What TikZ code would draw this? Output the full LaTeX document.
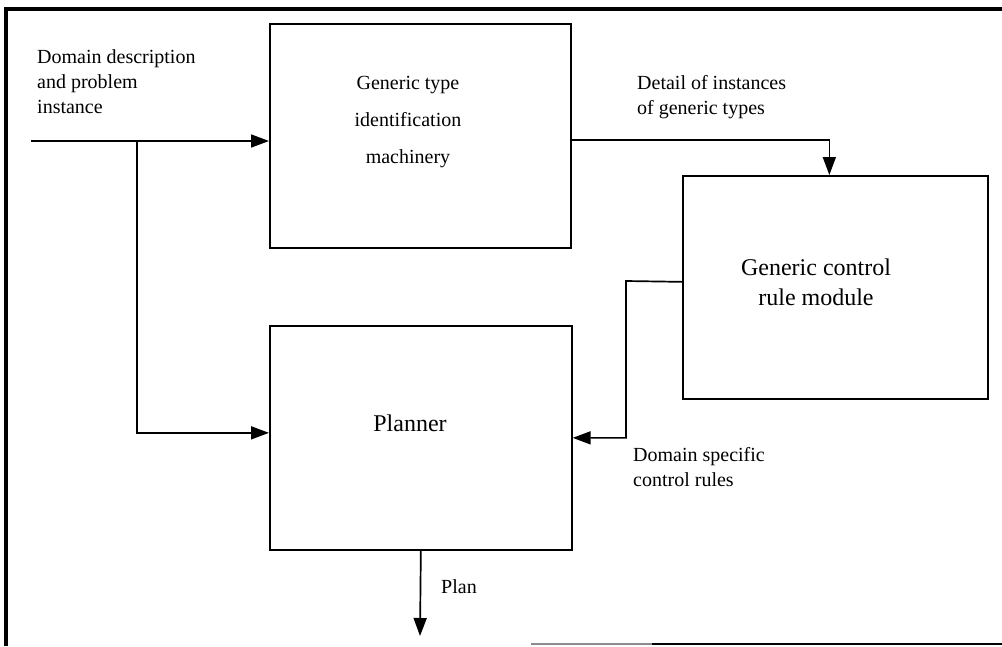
\documentclass[tikz,border=0pt]{standalone}
\usepackage{fontspec}
\setmainfont{Liberation Serif}
\usetikzlibrary{arrows.meta}
\begin{document}
\begin{tikzpicture}[x=1pt,y=-1pt,
  box/.style={draw,line width=1.7pt,rectangle,inner sep=0pt,anchor=north west},
  lbl/.style={font=\fontsize{20}{25}\selectfont,align=left,anchor=west,inner sep=0pt},
  conn/.style={line width=1.7pt},
  arr/.style={conn,-{Triangle[length=18pt,width=13pt]}},
  frame/.style={line width=3.2pt}
]
\useasboundingbox (0,0) rectangle (1002,646);
% frame
\draw[frame] (6,646) -- (6,9) -- (1002,9);
\draw[line width=2pt,black!45] (531,644) -- (652,644);
\draw[line width=2.5pt] (652,644) -- (1002,644);
% boxes
\node[box,minimum width=301pt,minimum height=224pt] (gt) at (269,23) {};
\node[box,minimum width=302pt,minimum height=224pt] (pl) at (269,325) {};
\node[box,minimum width=305pt,minimum height=223pt] (ct) at (682,175) {};
% box texts
\node[font=\fontsize{20}{37}\selectfont,align=center] (gtt) at (408,122) {Generic type\\identification\\machinery};
\node[font=\fontsize{24}{30}\selectfont,align=center] (ctt) at (816,282) {Generic control\\ rule module};
\node[font=\fontsize{24}{29}\selectfont] (plt) at (410,423) {Planner};
% labels
\node[lbl] (l1) at (37,82) {Domain description\\and problem\\instance};
\node[lbl] (l2) at (637,97) {Detail of instances\\of generic types};
\node[lbl] (l3) at (633,467) {Domain specific\\control rules};
\node[lbl] (l4) at (441,587) {Plan};
% connectors
\coordinate (in) at (31,141);
\coordinate (br) at (137,141);
\coordinate (cb) at (626,281);
\coordinate (out) at (420,636);
\draw[arr] (in) -- (in -| gt.west);
\draw[arr] (br) |- ([yshift=5pt]pl.west);
\draw[arr] ([yshift=-4pt]gt.east) -| ([xshift=-6pt]ct.north);
\draw[arr] ([yshift=5.5pt]ct.west) -- (cb) |- (pl.east);
\draw[arr] (pl.south) -- (out);
\end{tikzpicture}
\end{document}
